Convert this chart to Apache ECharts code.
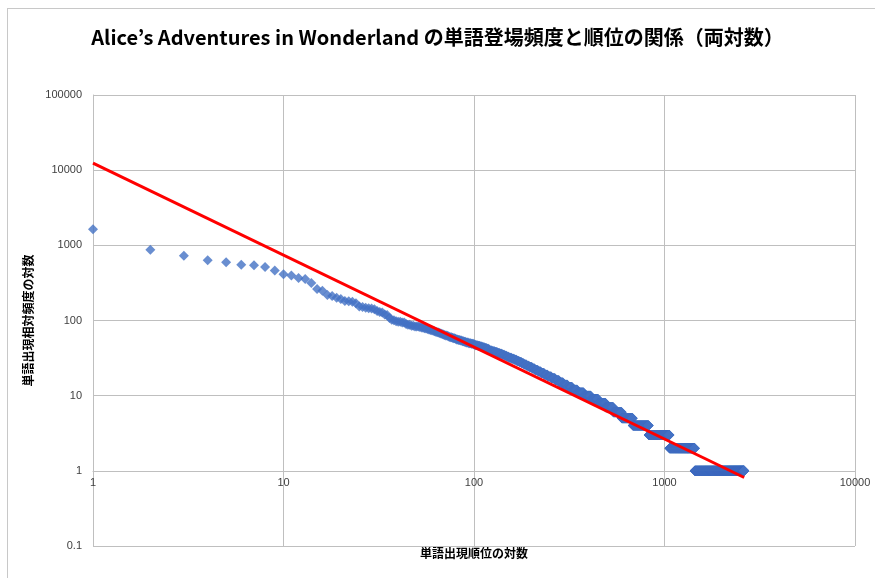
<!DOCTYPE html>
<html>
<head>
<meta charset="utf-8">
<script src="https://cdn.jsdelivr.net/npm/echarts@6/dist/echarts.min.js"></script>
<style>
  html, body { margin: 0; padding: 0; background: #fff; }
  #chart { width: 875px; height: 578px; }
</style>
</head>
<body>
<div id="chart"></div>
<script>
// Word counts of the most frequent words, in rank order
const topFreqs = [
  1642, 872, 729, 632, 595, 553, 543, 514, 462, 411,
  398, 369, 357, 315, 263, 248, 218, 212, 201, 193,
  182, 180, 178, 170, 153, 151, 148, 145, 144, 141,
  134, 130, 128, 120, 118, 108, 102, 101, 98, 96,
  96, 94, 94, 90, 88, 88, 85, 85, 83, 83,
  83, 82, 81, 80, 79, 78, 77, 76, 75, 74,
  73, 72, 71, 70, 69, 68, 67, 66, 65, 64,
  63, 63, 62, 61, 60, 60, 59, 58, 58, 57,
  56, 56, 55, 55, 54, 54, 53, 53, 52, 52,
  51, 51, 51, 50, 50, 50, 49, 49, 49, 48,
  48, 47, 47, 47, 46, 46, 46, 45, 45, 45,
  44, 44, 44, 43, 43, 43, 42, 42, 42, 41
];

// Remaining words: how many words share each (low) count
const spectrumFreq  = [40, 39, 38, 37, 36, 35, 34, 33, 32, 31, 30, 29, 28, 27, 26, 25, 24, 23, 22, 21, 20,
                       19, 18, 17, 16, 15, 14, 13, 12, 11, 10, 9, 8, 7, 6, 5, 4, 3, 2, 1];
const spectrumCount = [4, 4, 4, 4, 4, 4, 4, 4, 5, 5, 5, 5, 5, 5, 6, 6, 7, 7, 8, 8, 9,
                       10, 11, 12, 13, 14, 16, 18, 21, 28, 34, 38, 42, 48, 58, 85, 145, 235, 380, 1179];

// Power-law trend line, given by its two end points (rank, count)
const trendRank = [1, 2620];
const trendFreq = [12400, 0.815];

// Tick range of both log axes
const yTicks = [0.1, 1, 10, 100, 1000, 10000, 100000];
const xTicks = [1, 10, 100, 1000, 10000];

// Build [rank, count] points
const points = [];
let rank = 1;
topFreqs.forEach(f => { points.push([rank, f]); rank += 1; });
spectrumFreq.forEach((f, i) => {
  for (let k = 0; k < spectrumCount[i]; k++) { points.push([rank, f]); rank += 1; }
});

const trendData = trendRank.map((r, i) => [r, trendFreq[i]]);

const chart = echarts.init(document.getElementById('chart'), null, { renderer: 'canvas' });

const labelStyle = { color: '#404040', fontSize: 11, fontFamily: '"Liberation Sans", Arial, sans-serif' };
const gridColor = '#bfbfbf';

chart.setOption({
  animation: false,
  backgroundColor: '#ffffff',
  title: {
    text: 'Alice\u2019s Adventures in Wonderland の単語登場頻度と順位の関係（両対数）',
    left: 'center',
    top: 22,
    textStyle: {
      fontFamily: '"Noto Sans CJK JP", sans-serif',
      fontWeight: 'bold',
      fontSize: 20,
      color: '#000000'
    }
  },
  graphic: [
    { type: 'line', shape: { x1: 7, y1: 8.5, x2: 875, y2: 8.5 }, style: { stroke: '#c8c8c8', lineWidth: 1 } },
    { type: 'line', shape: { x1: 7.5, y1: 8, x2: 7.5, y2: 578 }, style: { stroke: '#c8c8c8', lineWidth: 1 } }
  ],
  grid: { left: 93, right: 20, top: 95, bottom: 32, containLabel: false },
  xAxis: {
    type: 'log',
    logBase: 10,
    min: xTicks[0],
    max: xTicks[xTicks.length - 1],
    offset: -75,
    name: '単語出現順位の対数',
    nameLocation: 'middle',
    nameGap: 76,
    nameTextStyle: { fontFamily: '"Noto Sans CJK JP", sans-serif', fontWeight: 'bold', fontSize: 12, color: '#000' },
    axisLine: { show: true, lineStyle: { color: gridColor, width: 1 } },
    axisTick: { show: false },
    axisLabel: Object.assign({ margin: 6, formatter: v => String(v) }, labelStyle),
    splitLine: { show: true, lineStyle: { color: gridColor, width: 1 } }
  },
  yAxis: {
    type: 'log',
    logBase: 10,
    min: yTicks[0],
    max: yTicks[yTicks.length - 1],
    name: '単語出現相対頻度の対数',
    nameLocation: 'middle',
    nameGap: 54,
    nameRotate: 90,
    nameTextStyle: { fontFamily: '"Noto Sans CJK JP", sans-serif', fontWeight: 'bold', fontSize: 12, color: '#000' },
    axisLine: { show: true, lineStyle: { color: gridColor, width: 1 } },
    axisTick: { show: false },
    axisLabel: Object.assign({ margin: 11, formatter: v => String(v) }, labelStyle),
    splitLine: { show: true, lineStyle: { color: gridColor, width: 1 } }
  },
  series: [
    {
      type: 'scatter',
      data: points,
      symbol: 'diamond',
      symbolSize: 10,
      itemStyle: { color: '#4472C4' },
      large: false,
      z: 2
    },
    {
      type: 'line',
      data: trendData,
      showSymbol: false,
      symbol: 'none',
      lineStyle: { color: '#FF0000', width: 3 },
      z: 3
    }
  ]
});
</script>
</body>
</html>
